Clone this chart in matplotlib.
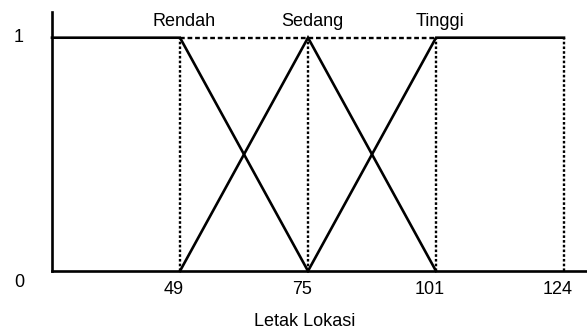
import matplotlib
matplotlib.use("Agg")
import matplotlib.pyplot as plt
import matplotlib.transforms as mtransforms

# ---- data ----
categories = ["Rendah", "Sedang", "Tinggi"]
breakpoints = [49, 75, 101, 124]          # x tick values (drawn schematically, equally spaced)
tick_labels = ["49", "75", "101", "124"]
pos = list(range(1, len(breakpoints) + 1))  # schematic positions of the breakpoints

rendah_x = [0, pos[0], pos[1]]
rendah_y = [1, 1, 0]
sedang_x = [pos[0], pos[1], pos[2]]
sedang_y = [0, 1, 0]
tinggi_x = [pos[1], pos[2], pos[3]]
tinggi_y = [0, 1, 1]
peak_x = [pos[0], pos[1], pos[2]]          # where each category label sits
y_labels = ["0", "1"]
xlabel = "Letak Lokasi"

plt.rcParams["font.family"] = ["Liberation Sans", "DejaVu Sans"]
FS = 13

W, H = 587, 332
fig = plt.figure(figsize=(W / 100, H / 100), dpi=100)
ax_left, ax_bottom_px, ax_top_px = 52, 271, 11.7
ax = fig.add_axes([ax_left / W, (H - ax_bottom_px) / H, 1 - ax_left / W,
                   (ax_bottom_px - ax_top_px) / H])

xmax = (W - ax_left) / 128.0
ymax = (ax_bottom_px - ax_top_px) / (ax_bottom_px - 37.7)
ax.set_xlim(0, xmax)
ax.set_ylim(0, ymax)

lw = 1.9
for xs, ys in [(rendah_x, rendah_y), (sedang_x, sedang_y), (tinggi_x, tinggi_y)]:
    ax.plot(xs, ys, color="black", lw=lw, solid_joinstyle="miter", clip_on=False, zorder=3)

# dotted guide lines
for p in pos:
    ax.plot([p, p], [0, 1], color="black", lw=1.7, linestyle=(0, (1.1, 0.9)), zorder=2)
ax.plot([pos[0], pos[2]], [1, 1], color="black", lw=1.7, linestyle=(0, (2.0, 1.2)), zorder=2)

# spines
for s in ["top", "right"]:
    ax.spines[s].set_visible(False)
for s in ["left", "bottom"]:
    ax.spines[s].set_linewidth(1.9)
    ax.spines[s].set_color("black")

ax.set_xticks(pos)
ax.set_xticklabels(tick_labels, fontsize=FS)
ax.tick_params(axis="x", length=0, pad=7)
offset = mtransforms.ScaledTranslation(-6 / 100, 0, fig.dpi_scale_trans)
for lab in ax.get_xticklabels():
    lab.set_transform(lab.get_transform() + offset)
ax.set_yticks([])

# y labels
trans_y = mtransforms.blended_transform_factory(fig.transFigure, ax.transData)
ax.annotate(y_labels[1], xy=(19 / W, 1), xycoords=trans_y, ha="center", va="center", fontsize=FS)
ax.annotate(y_labels[0], xy=(19 / W, 0), xycoords=trans_y, xytext=(0, -8),
            textcoords="offset points", ha="center", va="center", fontsize=FS)

# category labels
trans_c = mtransforms.blended_transform_factory(ax.transData, fig.transFigure)
for name, px in zip(categories, peak_x):
    ax.text(px + 0.03, 1 - 21 / H, name, transform=trans_c, ha="center", va="center", fontsize=FS)

ax.text((305 - ax_left) / (W - ax_left), 1 - 322 / H, xlabel,
        transform=mtransforms.blended_transform_factory(ax.transAxes, fig.transFigure),
        ha="center", va="center", fontsize=FS)

fig.savefig("out.png", dpi=100)
